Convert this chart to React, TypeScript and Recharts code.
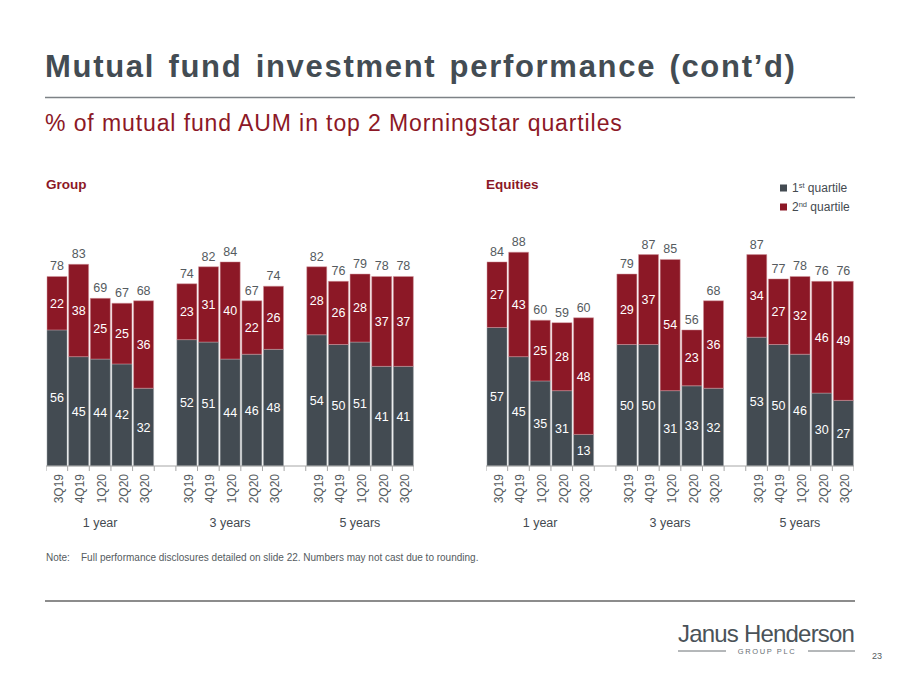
import React from "react";
import { BarChart, Bar, XAxis, YAxis, LabelList } from "recharts";

const QUARTERS = ["3Q19", "4Q19", "1Q20", "2Q20", "3Q20"];
const PERIODS = ["1 year", "3 years", "5 years"];

const groupFirst = [56, 45, 44, 42, 32, 52, 51, 44, 46, 48, 54, 50, 51, 41, 41];
const groupSecond = [22, 38, 25, 25, 36, 23, 31, 40, 22, 26, 28, 26, 28, 37, 37];
const groupTotal = [78, 83, 69, 67, 68, 74, 82, 84, 67, 74, 82, 76, 79, 78, 78];

const equityFirst = [57, 45, 35, 31, 13, 50, 50, 31, 33, 32, 53, 50, 46, 30, 27];
const equitySecond = [27, 43, 25, 28, 48, 29, 37, 54, 23, 36, 34, 27, 32, 46, 49];
const equityTotal = [84, 88, 60, 59, 60, 79, 87, 85, 56, 68, 87, 77, 78, 76, 76];

const DARK = "#434b52";
const RED = "#8c1826";
const FONT = "'Liberation Sans', Arial, sans-serif";

const CHART_W = 368;
const CHART_H = 356;
const MARGIN = { top: 43, right: 0, left: 0, bottom: 0 };
const AXIS_H = 70;
const AXIS_Y = CHART_H - AXIS_H;

type Row = { key: string; quarter: string; period: string; first: number | null; second: number | null; total: number | null };

// 5 quarters per period, with an empty slot between periods
const buildRows = (first: number[], second: number[], total: number[]): Row[] => {
  const rows: Row[] = [];
  PERIODS.forEach((period, p) => {
    QUARTERS.forEach((quarter, q) => {
      const i = p * QUARTERS.length + q;
      rows.push({ key: `${period}-${quarter}`, quarter, period, first: first[i], second: second[i], total: total[i] });
    });
    if (p < PERIODS.length - 1) {
      rows.push({ key: `gap${p}`, quarter: "", period: "", first: null, second: null, total: null });
    }
  });
  return rows;
};

const groupRows = buildRows(groupFirst, groupSecond, groupTotal);
const equityRows = buildRows(equityFirst, equitySecond, equityTotal);

const makeTick = (rows: Row[]) => (props: any) => {
  const { x, index } = props;
  const slot = CHART_W / rows.length;
  const row = rows[index];
  if (!row) return null;
  const left = x - slot / 2;
  const isLast = index === rows.length - 1;
  const isMiddle = row.quarter === QUARTERS[2];
  return (
    <g>
      <line x1={left} x2={left} y1={AXIS_Y} y2={AXIS_Y + 5} stroke="#a6a6a6" />
      {isLast && <line x1={left + slot} x2={left + slot} y1={AXIS_Y} y2={AXIS_Y + 5} stroke="#a6a6a6" />}
      {row.quarter && (
        <text
          x={x + 6}
          y={AXIS_Y + 8}
          textAnchor="end"
          transform={`rotate(-90, ${x + 6}, ${AXIS_Y + 8})`}
          fontSize={12}
          fill="#555b60"
          fontFamily={FONT}
        >
          {row.quarter}
        </text>
      )}
      {isMiddle && (
        <text x={x} y={AXIS_Y + 61} textAnchor="middle" fontSize={12.5} fill="#444a50" fontFamily={FONT}>
          {row.period}
        </text>
      )}
    </g>
  );
};

const fmt = (v: any) => (v == null ? "" : v);

const StackChart = ({ rows, left }: { rows: Row[]; left: number }) => (
  <div style={{ position: "absolute", left, top: 180 }}>
    <BarChart width={CHART_W} height={CHART_H} data={rows} margin={MARGIN} barCategoryGap={1}>
      <XAxis
        dataKey="key"
        interval={0}
        height={AXIS_H}
        tick={makeTick(rows)}
        tickLine={false}
        axisLine={{ stroke: "#a6a6a6" }}
      />
      <YAxis hide domain={[0, 100]} />
      <Bar dataKey="first" stackId="a" fill={DARK} stroke="#9aa0a5" strokeWidth={0.5} isAnimationActive={false}>
        <LabelList dataKey="first" position="center" fill="#ffffff" fontSize={12.5} fontFamily={FONT} formatter={fmt} />
      </Bar>
      <Bar dataKey="second" stackId="a" fill={RED} stroke="#d49aa2" strokeWidth={0.5} isAnimationActive={false}>
        <LabelList dataKey="second" position="center" fill="#ffffff" fontSize={12.5} fontFamily={FONT} formatter={fmt} />
        <LabelList dataKey="total" position="top" offset={6} fill="#555b60" fontSize={12.5} fontFamily={FONT} formatter={fmt} />
      </Bar>
    </BarChart>
  </div>
);

export default function App() {
  return (
    <div style={{ position: "absolute", left: 0, top: 0, width: 900, height: 675, background: "#fff", overflow: "hidden", fontFamily: FONT }}>
      <svg width={900} height={675} style={{ position: "absolute", left: 0, top: 0 }}>
        <text x={45} y={77} fontSize={31} fontWeight="bold" fill="#434c53" fontFamily={FONT} letterSpacing={1.7} wordSpacing={3}>
          Mutual fund investment performance (cont’d)
        </text>
        <line x1={45} x2={855} y1={97.5} y2={97.5} stroke="#7d8286" strokeWidth={1.5} />
        <text x={45} y={131} fontSize={23} fill={RED} fontFamily={FONT} letterSpacing={0.9}>
          % of mutual fund AUM in top 2 Morningstar quartiles
        </text>
        <text x={46} y={189} fontSize={13.5} fontWeight="bold" fill={RED} fontFamily={FONT}>
          Group
        </text>
        <text x={486} y={189} fontSize={13.5} fontWeight="bold" fill={RED} fontFamily={FONT}>
          Equities
        </text>

        <rect x={780} y={184.5} width={7} height={7} fill={DARK} />
        <text x={792} y={192} fontSize={12} fill="#444a50" fontFamily={FONT}>
          1<tspan fontSize={7.5} dy={-4}>st</tspan>
          <tspan dy={4}> quartile</tspan>
        </text>
        <rect x={780} y={203.5} width={7} height={7} fill={RED} />
        <text x={792} y={211} fontSize={12} fill="#444a50" fontFamily={FONT}>
          2<tspan fontSize={7.5} dy={-4}>nd</tspan>
          <tspan dy={4}> quartile</tspan>
        </text>

        <text x={46} y={561} fontSize={10} fill="#555b60" fontFamily={FONT}>
          Note:
        </text>
        <text x={81} y={561} fontSize={10} fill="#555b60" fontFamily={FONT}>
          Full performance disclosures detailed on slide 22. Numbers may not cast due to rounding.
        </text>
        <line x1={45} x2={855} y1={601} y2={601} stroke="#8c8c8c" strokeWidth={2} />

        <text x={678} y={642} fontSize={24} fill="#4a5258" fontFamily={FONT} letterSpacing={-0.8}>
          Janus Henderson
        </text>
        <line x1={678} x2={726} y1={651} y2={651} stroke="#6a7075" strokeWidth={1} />
        <line x1={808} x2={855} y1={651} y2={651} stroke="#6a7075" strokeWidth={1} />
        <text x={767} y={654} fontSize={7.5} textAnchor="middle" fill="#6a7075" fontFamily={FONT} letterSpacing={1.6}>
          GROUP PLC
        </text>
        <text x={872} y={659} fontSize={9} fill="#555b60" fontFamily={FONT}>
          23
        </text>
      </svg>
      <StackChart rows={groupRows} left={46} />
      <StackChart rows={equityRows} left={486} />
    </div>
  );
}
